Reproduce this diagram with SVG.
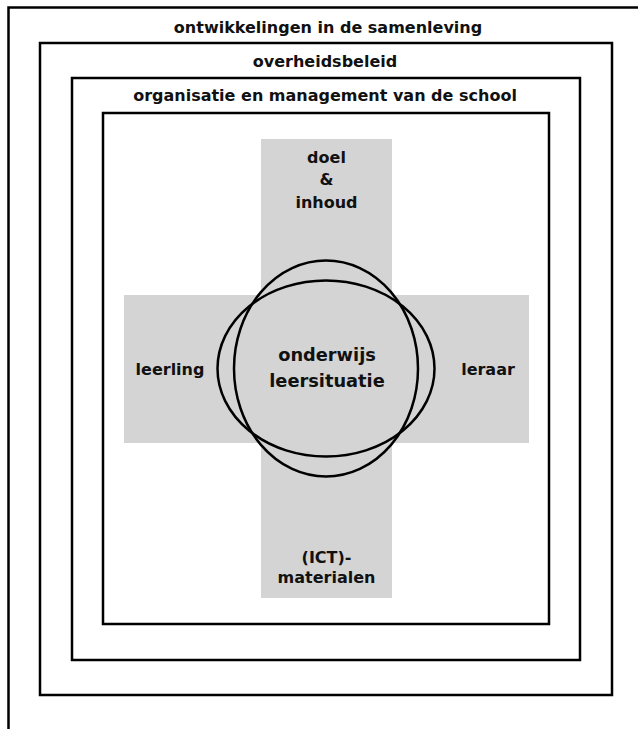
<svg xmlns="http://www.w3.org/2000/svg" width="638" height="729" viewBox="0 0 638 729">
<style>
.box{fill:none;stroke:#000;stroke-width:2.5}
.bar{fill:#d4d4d4}
.ring{fill:none;stroke:#000;stroke-width:2.5}
text{font-family:"DejaVu Sans","Liberation Sans",sans-serif;font-weight:bold;font-size:16px;fill:#111;text-anchor:middle}
.big{font-size:17.8px}
</style>
<rect width="638" height="729" fill="#fff"/>
<g id="samenleving">
<rect class="box" x="8.5" y="7.5" width="700" height="800"/>
<text x="328" y="33">ontwikkelingen in de samenleving</text>
</g>
<g id="overheidsbeleid">
<rect class="box" x="40" y="43" width="572" height="652"/>
<text x="325" y="67">overheidsbeleid</text>
</g>
<g id="school">
<rect class="box" x="72" y="78" width="508" height="582"/>
<text x="325" y="101">organisatie en management van de school</text>
</g>
<g id="klas">
<rect class="box" x="103" y="113" width="446" height="511"/>
</g>
<g id="kruis">
<rect class="bar" x="261" y="139" width="131" height="459"/>
<rect class="bar" x="124" y="295" width="405" height="148"/>
</g>
<g id="doel">
<text x="326.5" y="163">doel</text>
<text x="326.5" y="185">&amp;</text>
<text x="326.5" y="208">inhoud</text>
</g>
<g id="leerling">
<text x="170" y="375">leerling</text>
</g>
<g id="leraar">
<text x="488" y="375">leraar</text>
</g>
<g id="materialen">
<text x="326.5" y="563">(ICT)-</text>
<text x="326.5" y="583">materialen</text>
</g>
<g id="onderwijs">
<ellipse class="ring" cx="326" cy="368.5" rx="92" ry="108"/>
<ellipse class="ring" cx="326" cy="368.5" rx="108.5" ry="88"/>
<text class="big" x="327" y="361">onderwijs</text>
<text class="big" x="327" y="387">leersituatie</text>
</g>
</svg>
